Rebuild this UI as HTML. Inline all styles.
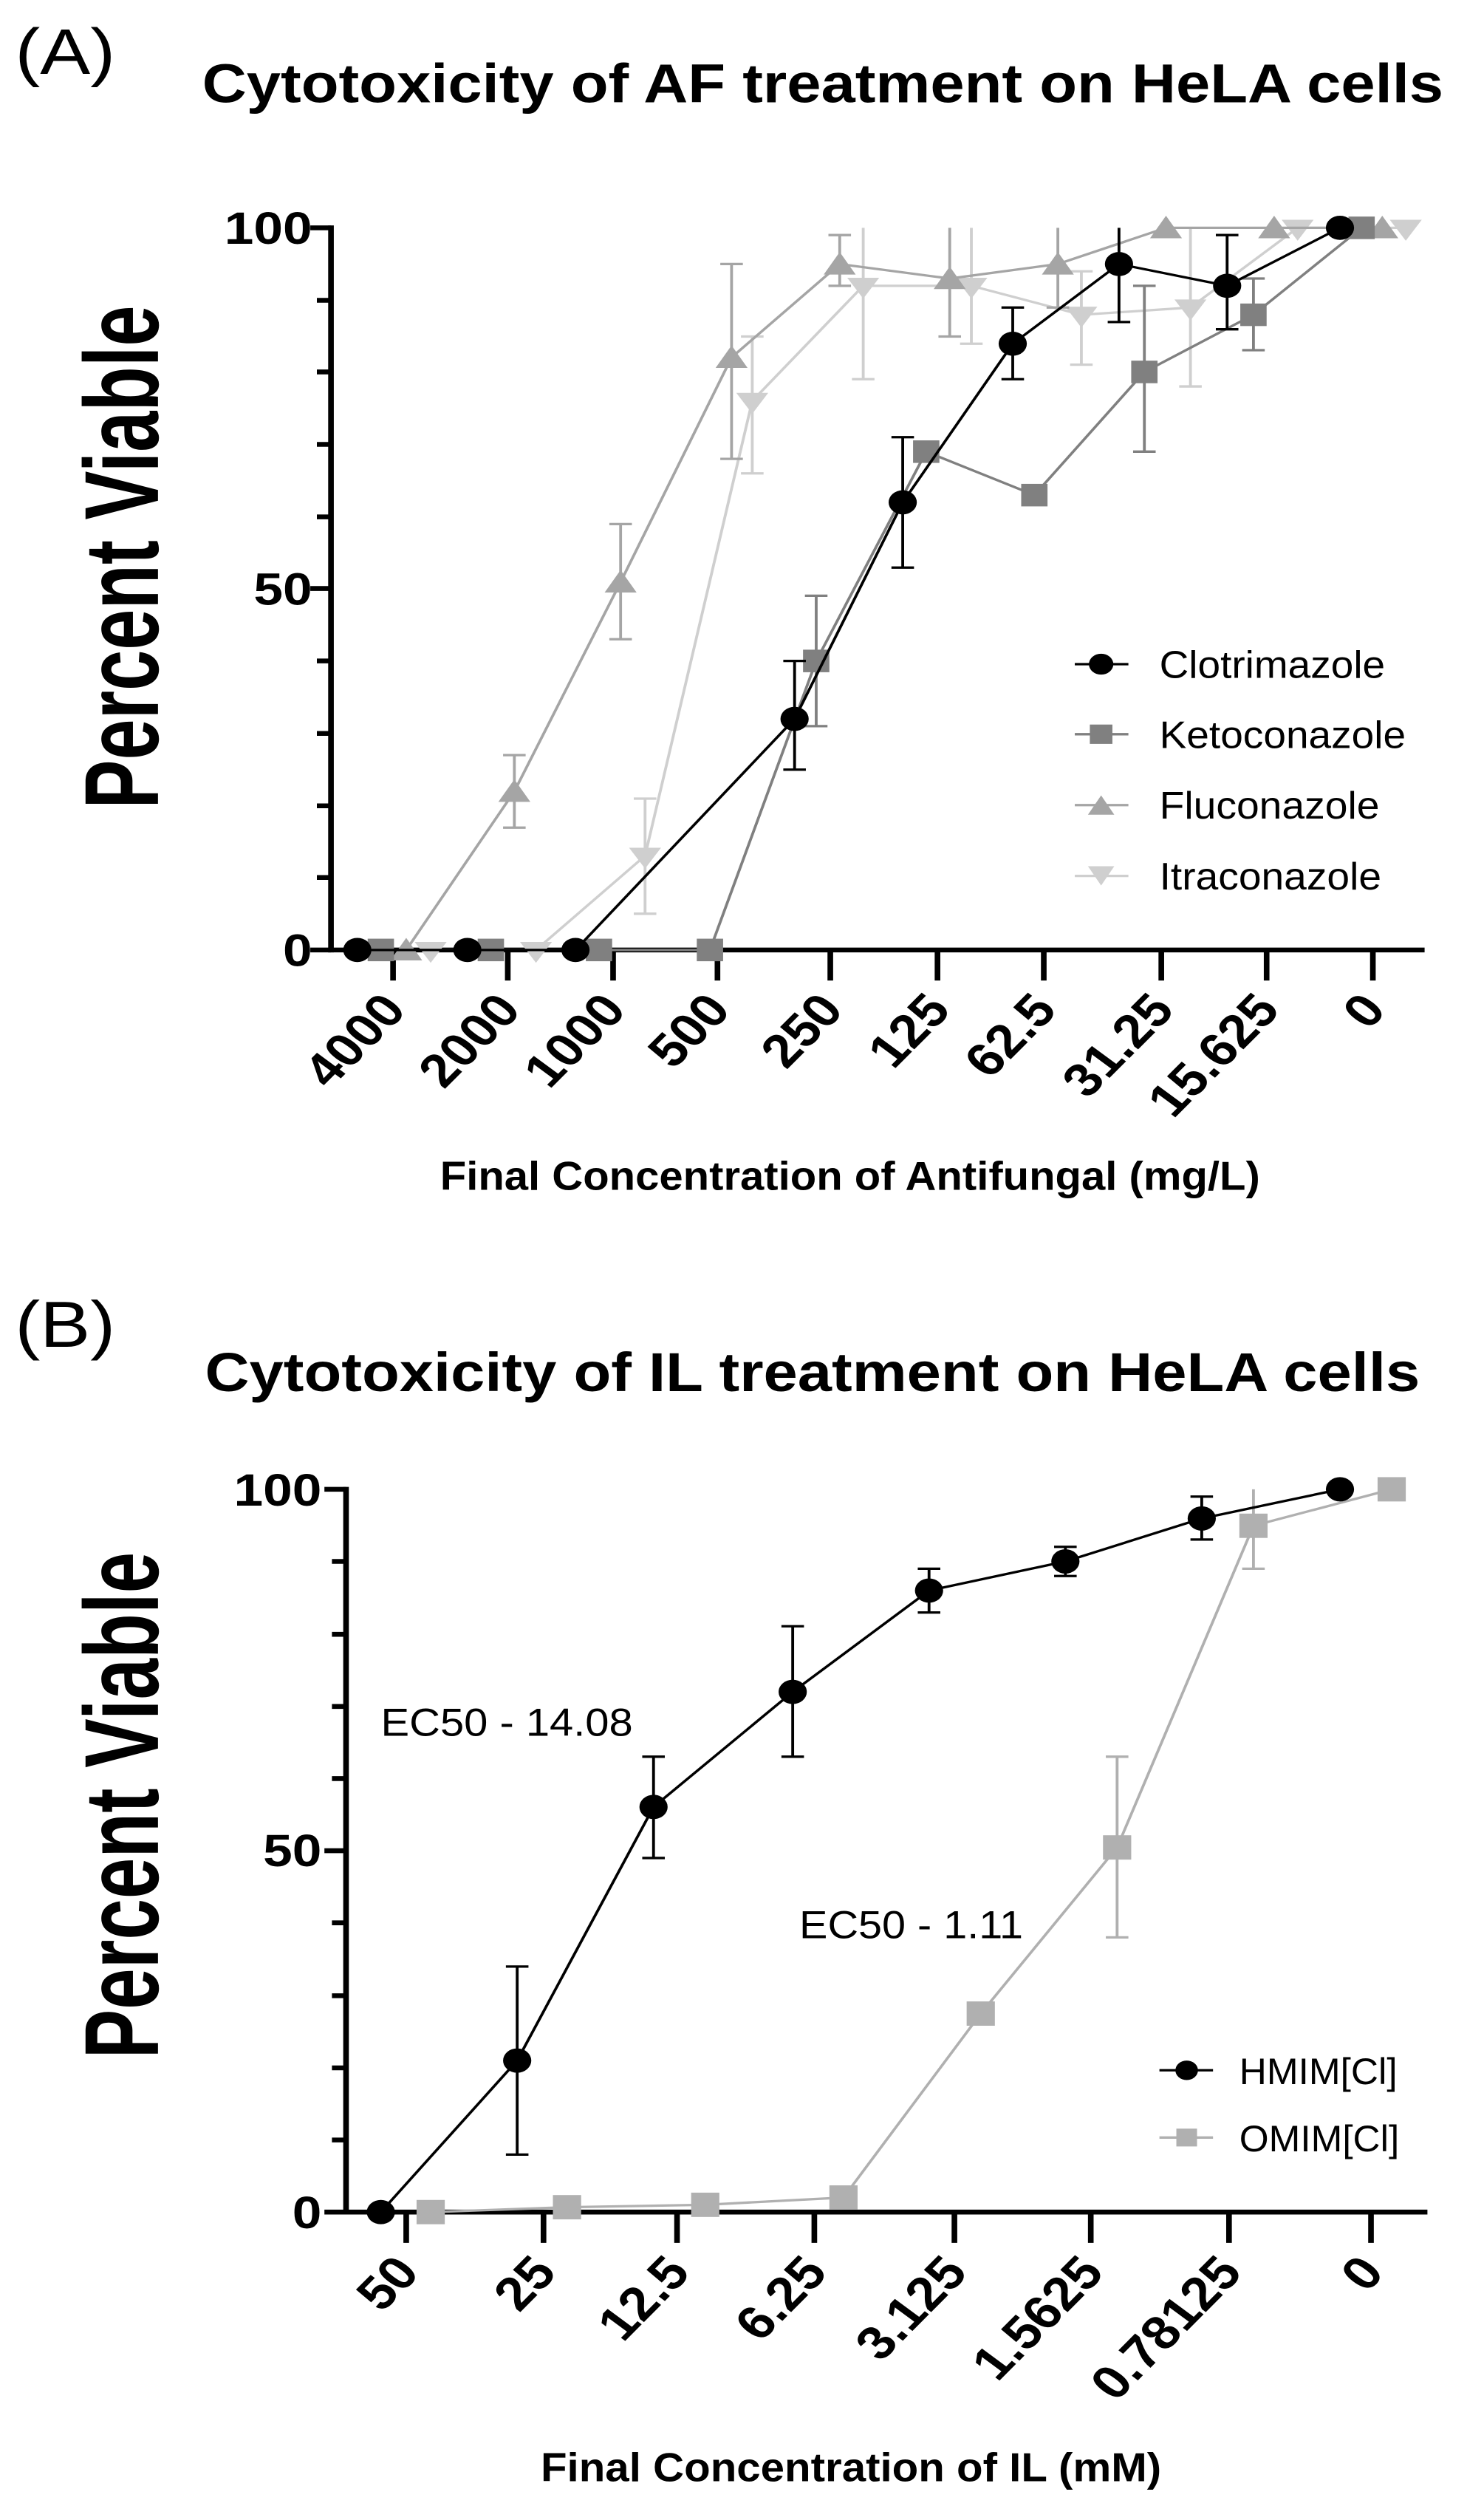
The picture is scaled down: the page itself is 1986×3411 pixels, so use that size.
<!DOCTYPE html>
<html><head><meta charset="utf-8"><style>
html,body{margin:0;padding:0;background:#fff;overflow:hidden;}
svg{display:block;}
text{font-family:"Liberation Sans",Arial,sans-serif;}
.b{font-weight:bold;}
</style></head><body>
<svg width="1986" height="3411" viewBox="0 0 1986 3411" xmlns="http://www.w3.org/2000/svg">
<rect width="1986" height="3411" fill="#fff"/>
<!-- PANEL A -->
<g transform="scale(1.273,1.0897)">
<text x="16" y="92" font-size="80">(A)</text>
<text x="215" y="127" font-size="68" class="b" textLength="1320" lengthAdjust="spacingAndGlyphs">Cytotoxicity of AF treatment on HeLA cells</text>
<text transform="translate(168,692) rotate(-90)" text-anchor="middle" font-size="112" class="b" textLength="625" lengthAdjust="spacingAndGlyphs">Percent Viable</text>
<g font-size="56" class="b" text-anchor="end">
<text x="332" y="303">100</text><text x="332" y="751">50</text><text x="332" y="1200">0</text>
</g>
<g stroke="#000" stroke-width="6" fill="none">
<line x1="352" y1="280" x2="352" y2="1183"/>
<line x1="349" y1="1180" x2="1515" y2="1180"/>
<path d="M330 283H352M330 731H352M330 1180H352"/>
<path d="M337 373H352M337 462H352M337 552H352M337 642H352M337 821H352M337 911H352M337 1001H352M337 1090H352"/>
<path d="M418 1180V1218M540 1180V1218M652 1180V1218M763 1180V1218M883 1180V1218M997 1180V1218M1110 1180V1218M1235 1180V1218M1347 1180V1218M1460 1180V1218"/>
</g>
<g font-size="58" class="b" text-anchor="end">
<text transform="translate(434,1256) rotate(-49.4)">4000</text>
<text transform="translate(556,1256) rotate(-49.4)">2000</text>
<text transform="translate(668,1256) rotate(-49.4)">1000</text>
<text transform="translate(779,1256) rotate(-49.4)">500</text>
<text transform="translate(899,1256) rotate(-49.4)">250</text>
<text transform="translate(1013,1256) rotate(-49.4)">125</text>
<text transform="translate(1126,1256) rotate(-49.4)">62.5</text>
<text transform="translate(1251,1256) rotate(-49.4)">31.25</text>
<text transform="translate(1363,1256) rotate(-49.4)">15.625</text>
<text transform="translate(1476,1256) rotate(-49.4)">0</text>
</g>
<text x="904" y="1478" font-size="50" class="b" text-anchor="middle" textLength="872" lengthAdjust="spacingAndGlyphs">Final Concentration of Antifungal (mg/L)</text>

<g stroke="#cfcfcf" stroke-width="3" fill="none">
<polyline points="458,1180 570,1180 686,1063 800,498 918,355 1033,355 1150,391 1266,382 1380,283 1495,283"/>
<path d="M686 1135V992M674 1135H698M674 992H698 M800 588V418M788 588H812M788 418H812 M918 471V283M906 471H930 M1033 427V283M1021 427H1045 M1150 453V337M1138 453H1162M1138 337H1162 M1266 480V283M1254 480H1278"/>
</g>
<g fill="#cfcfcf">
<path d="M441,1170 475,1170 458,1196Z M553,1170 587,1170 570,1196Z M669,1053 703,1053 686,1079Z M783,488 817,488 800,514Z M901,345 935,345 918,371Z M1016,345 1050,345 1033,371Z M1133,381 1167,381 1150,407Z M1249,372 1283,372 1266,398Z M1363,273 1397,273 1380,299Z M1478,273 1512,273 1495,299Z"/>
</g>
<g stroke="#a5a5a5" stroke-width="3" fill="none">
<polyline points="432,1180 547,983 660,723 778,444 893,328 1010,346 1125,328 1240,283 1355,283 1470,283"/>
<path d="M547 1028V938M535 1028H559M535 938H559 M660 794V651M648 794H672M648 651H672 M778 570V328M766 570H790M766 328H790 M893 355V292M881 355H905M881 292H905 M1010 418V283M998 418H1022 M1125 382V283M1113 382H1137"/>
</g>
<g fill="#a5a5a5">
<path d="M415,1193 449,1193 432,1165Z M530,996 564,996 547,968Z M643,736 677,736 660,708Z M761,457 795,457 778,429Z M876,341 910,341 893,313Z M993,359 1027,359 1010,331Z M1108,341 1142,341 1125,313Z M1223,296 1257,296 1240,268Z M1338,296 1372,296 1355,268Z M1453,296 1487,296 1470,268Z"/>
</g>
<g stroke="#808080" stroke-width="3" fill="none">
<polyline points="405,1180 522,1180 637,1180 755,1180 868,821 985,561 1100,615 1217,462 1333,391 1448,283"/>
<path d="M868 902V740M856 902H880M856 740H880 M1217 561V355M1205 561H1229M1205 355H1229 M1333 435V346M1321 435H1345M1321 346H1345"/>
</g>
<g fill="#808080">
<rect x="391" y="1166" width="28" height="28"/><rect x="508" y="1166" width="28" height="28"/><rect x="623" y="1166" width="28" height="28"/><rect x="741" y="1166" width="28" height="28"/><rect x="854" y="807" width="28" height="28"/><rect x="971" y="547" width="28" height="28"/><rect x="1086" y="601" width="28" height="28"/><rect x="1203" y="448" width="28" height="28"/><rect x="1319" y="377" width="28" height="28"/><rect x="1434" y="269" width="28" height="28"/>
</g>
<g stroke="#000" stroke-width="3" fill="none">
<polyline points="380,1180 497,1180 612,1180 845,893 960,624 1077,427 1190,328 1305,355 1425,283"/>
<path d="M845 956V821M833 956H857M833 821H857 M960 705V543M948 705H972M948 543H972 M1077 471V382M1065 471H1089M1065 382H1089 M1190 400V283M1178 400H1202 M1305 409V292M1293 409H1317M1293 292H1317"/>
</g>
<g fill="#000">
<circle cx="380" cy="1180" r="15"/><circle cx="497" cy="1180" r="15"/><circle cx="612" cy="1180" r="15"/><circle cx="845" cy="893" r="15"/><circle cx="960" cy="624" r="15"/><circle cx="1077" cy="427" r="15"/><circle cx="1190" cy="328" r="15"/><circle cx="1305" cy="355" r="15"/><circle cx="1425" cy="283" r="15"/>
</g>
<g font-size="48">
<line x1="1143" y1="825" x2="1200" y2="825" stroke="#000" stroke-width="3"/><circle cx="1171" cy="825" r="13"/>
<text x="1233" y="842" textLength="240" lengthAdjust="spacingAndGlyphs">Clotrimazole</text>
<line x1="1143" y1="912" x2="1200" y2="912" stroke="#808080" stroke-width="3"/><rect x="1159" y="900" width="24" height="24" fill="#808080"/>
<text x="1233" y="929" textLength="262" lengthAdjust="spacingAndGlyphs">Ketoconazole</text>
<line x1="1143" y1="1000" x2="1200" y2="1000" stroke="#a5a5a5" stroke-width="3"/><path d="M1157,1012 1185,1012 1171,988Z" fill="#a5a5a5"/>
<text x="1233" y="1017" textLength="234" lengthAdjust="spacingAndGlyphs">Fluconazole</text>
<line x1="1143" y1="1088" x2="1200" y2="1088" stroke="#cfcfcf" stroke-width="3"/><path d="M1157,1076 1185,1076 1171,1100Z" fill="#cfcfcf"/>
<text x="1233" y="1105" textLength="236" lengthAdjust="spacingAndGlyphs">Itraconazole</text>
</g>
</g>

<!-- PANEL B -->
<g transform="translate(0,1700) scale(1.273,1.0968)">
<text x="16" y="112" font-size="80">(B)</text>
<text x="218" y="167" font-size="68" class="b" textLength="1292" lengthAdjust="spacingAndGlyphs">Cytotoxicity of IL treatment on HeLA cells</text>
<text transform="translate(168,678) rotate(-90)" text-anchor="middle" font-size="112" class="b" textLength="625" lengthAdjust="spacingAndGlyphs">Percent Viable</text>
<g font-size="56" class="b" text-anchor="end">
<text x="342" y="308">100</text><text x="342" y="753">50</text><text x="342" y="1200">0</text>
</g>
<g stroke="#000" stroke-width="6" fill="none">
<line x1="368" y1="285" x2="368" y2="1183"/>
<line x1="365" y1="1180" x2="1518" y2="1180"/>
<path d="M345 288H368M345 734H368M345 1180H368"/>
<path d="M353 377H368M353 467H368M353 556H368M353 645H368M353 823H368M353 913H368M353 1002H368M353 1091H368"/>
<path d="M432 1180V1218M578 1180V1218M720 1180V1218M866 1180V1218M1015 1180V1218M1160 1180V1218M1307 1180V1218M1458 1180V1218"/>
</g>
<g font-size="58" class="b" text-anchor="end">
<text transform="translate(448,1256) rotate(-49.4)">50</text>
<text transform="translate(594,1256) rotate(-49.4)">25</text>
<text transform="translate(736,1256) rotate(-49.4)">12.5</text>
<text transform="translate(882,1256) rotate(-49.4)">6.25</text>
<text transform="translate(1031,1256) rotate(-49.4)">3.125</text>
<text transform="translate(1176,1256) rotate(-49.4)">1.5625</text>
<text transform="translate(1323,1256) rotate(-49.4)">0.78125</text>
<text transform="translate(1474,1256) rotate(-49.4)">0</text>
</g>
<text x="905" y="1512" font-size="50" class="b" text-anchor="middle" textLength="660" lengthAdjust="spacingAndGlyphs">Final Concentration of IL (mM)</text>
<text x="405" y="592" font-size="48" textLength="268" lengthAdjust="spacingAndGlyphs">EC50 - 14.08</text>
<text x="850" y="842" font-size="48" textLength="238" lengthAdjust="spacingAndGlyphs">EC50 - 1.11</text>
<g stroke="#b0b0b0" stroke-width="3" fill="none">
<polyline points="458,1180 603,1174 750,1171 897,1162 1043,935 1188,730 1333,333 1480,288"/>
<path d="M1188 841V618M1176 841H1200M1176 618H1200 M1333 386V288M1321 386H1345"/>
</g>
<g fill="#b0b0b0">
<rect x="443" y="1165" width="30" height="30"/><rect x="588" y="1159" width="30" height="30"/><rect x="735" y="1156" width="30" height="30"/><rect x="882" y="1147" width="30" height="30"/><rect x="1028" y="920" width="30" height="30"/><rect x="1173" y="715" width="30" height="30"/><rect x="1318" y="318" width="30" height="30"/><rect x="1465" y="273" width="30" height="30"/>
</g>
<g stroke="#000" stroke-width="3" fill="none">
<polyline points="405,1180 550,993 695,680 843,538 988,413 1133,377 1278,324 1425,288"/>
<path d="M550 1109V877M538 1109H562M538 877H562 M695 743V618M683 743H707M683 618H707 M843 618V457M831 618H855M831 457H855 M988 440V386M976 440H1000M976 386H1000 M1133 395V359M1121 395H1145M1121 359H1145 M1278 350V297M1266 350H1290M1266 297H1290"/>
</g>
<g fill="#000">
<circle cx="405" cy="1180" r="15"/><circle cx="550" cy="993" r="15"/><circle cx="695" cy="680" r="15"/><circle cx="843" cy="538" r="15"/><circle cx="988" cy="413" r="15"/><circle cx="1133" cy="377" r="15"/><circle cx="1278" cy="324" r="15"/><circle cx="1425" cy="288" r="15"/>
</g>
<g font-size="46">
<line x1="1233" y1="1005" x2="1290" y2="1005" stroke="#000" stroke-width="3"/><circle cx="1262" cy="1005" r="12"/>
<text x="1318" y="1022" textLength="168" lengthAdjust="spacingAndGlyphs">HMIM[Cl]</text>
<line x1="1233" y1="1088" x2="1290" y2="1088" stroke="#b0b0b0" stroke-width="3"/><rect x="1251" y="1077" width="22" height="22" fill="#b0b0b0"/>
<text x="1318" y="1105" textLength="170" lengthAdjust="spacingAndGlyphs">OMIM[Cl]</text>
</g>
</g>
</svg>
</body></html>
